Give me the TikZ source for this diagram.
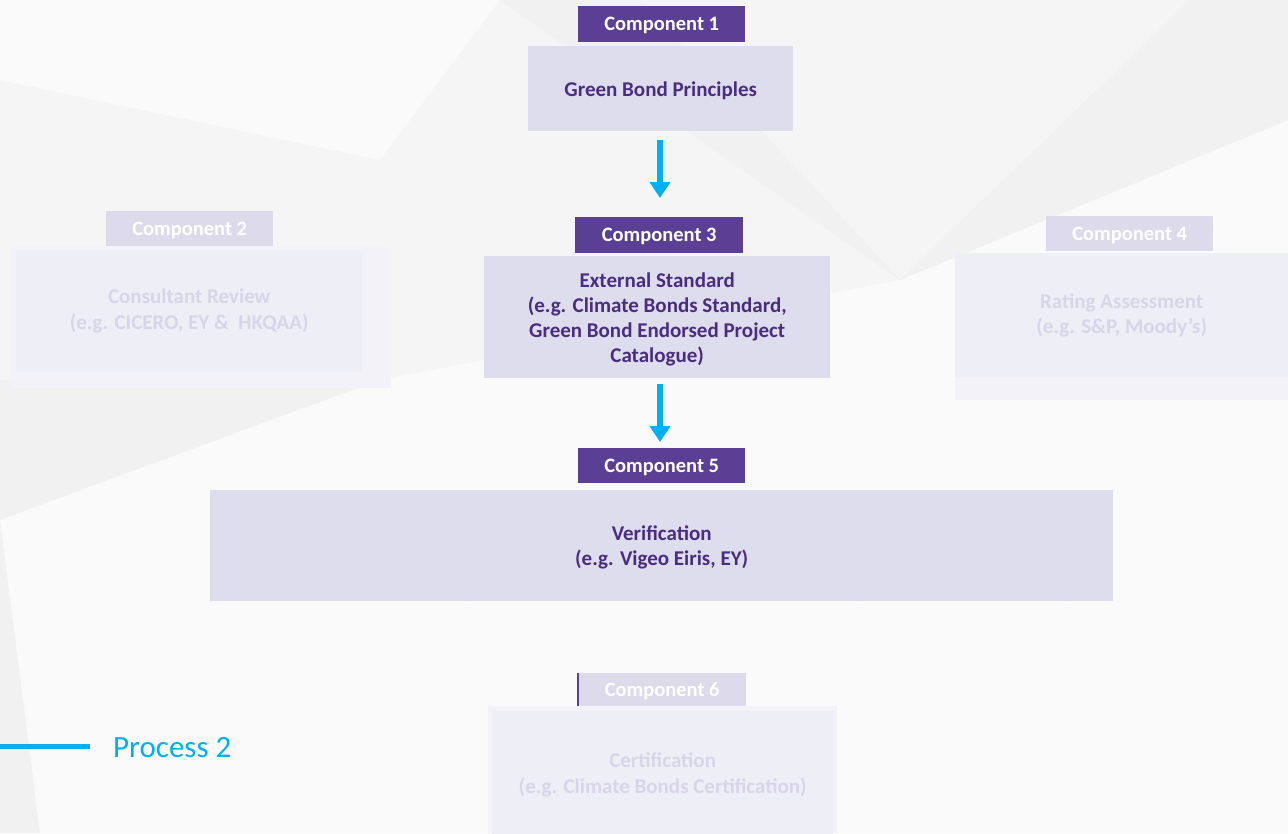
\documentclass[tikz,border=0pt]{standalone}
\usepackage{fontspec}
\setmainfont{Carlito}
\usetikzlibrary{arrows.meta}
\definecolor{bg}{HTML}{F5F5F6}
\definecolor{poly}{HTML}{FAFAFA}
\definecolor{polyd}{HTML}{F1F1F2}
\definecolor{hdr}{HTML}{5B3F94}
\definecolor{boxf}{HTML}{DEDDED}
\definecolor{txt}{HTML}{4A2C83}
\definecolor{cyanc}{HTML}{00B0F0}
\definecolor{fhdr}{HTML}{DDDAEB}
\definecolor{fout}{HTML}{F2F2F8}
\definecolor{fin}{HTML}{EEEEF7}
\definecolor{ftxt}{HTML}{D8D5E9}
\tikzset{
  x=1pt,y=-1pt,
  hdrbox/.style={fill=hdr,text=white,font=\bfseries\fontsize{20.5}{24}\selectfont,inner sep=0pt,anchor=north west,text depth=0pt},
  mainbox/.style={fill=boxf,text=txt,font=\bfseries\fontsize{21}{25}\selectfont,align=center,inner sep=0pt,anchor=north west,text depth=0pt},
  fhdrbox/.style={fill=fhdr,text=white,font=\bfseries\fontsize{20.5}{24}\selectfont,inner sep=0pt,anchor=north west,text depth=0pt},
  fbox/.style={fill=fin,text=ftxt,font=\bfseries\fontsize{21}{26}\selectfont,align=center,inner sep=0pt,anchor=north west},
  flow/.style={draw=cyanc,line width=6pt,-{Triangle[width=20pt,length=16pt]}}
}
\begin{document}
\begin{tikzpicture}
\useasboundingbox (0,0) rectangle (1288,833);
\fill[bg] (0,0) rectangle (1288,833);
% background facets
\fill[poly] (0,0) -- (500,0) -- (380,160) -- (0,80) -- cycle;
\fill[polyd] (500,0) -- (900,280) -- (640,0) -- cycle;
\fill[poly] (900,280) -- (1288,120) -- (1288,833) -- (1190,833) -- cycle;
\fill[poly] (900,280) -- (1190,833) -- (900,833) -- (860,620) -- cycle;
\fill[polyd] (1190,0) -- (1288,0) -- (1288,120) -- (900,280) -- cycle;
\fill[poly] (380,380) -- (900,280) -- (860,620) -- (470,620) -- cycle;
\fill[polyd] (0,380) -- (380,380) -- (0,520) -- cycle;
\fill[poly] (0,520) -- (380,380) -- (470,620) -- (150,833) -- (0,833) -- cycle;
\fill[polyd] (0,520) -- (40,833) -- (0,833) -- cycle;
\fill[poly] (470,620) -- (860,620) -- (900,833) -- (150,833) -- cycle;

% component 2 (faded)
\fill[fout] (11,247) rectangle (391,388);
\node[fbox,minimum width=346pt,minimum height=122pt] (c2) at (16,250) {Consultant Review\\(e.g. CICERO, EY \&\ \ HKQAA)};
\node[fhdrbox,minimum width=167pt,minimum height=35pt] (h2) at (106,211) {Component 2};

% component 4 (faded)
\fill[fout] (955,253) rectangle (1288,400);
\node[fbox,minimum width=333pt,minimum height=124pt,text depth=0pt] (c4) at (955,253) {\raisebox{20pt}{\begin{tabular}{@{}c@{}}Rating Assessment\\[-1pt](e.g. S\&P, Moody’s)\end{tabular}}};
\node[fhdrbox,minimum width=167pt,minimum height=35pt] (h4) at (1046,216) {Component 4};

% component 6 (faded)
\fill[fout] (488,706) rectangle (837,833);
\node[fbox,minimum width=341pt,minimum height=127pt] (c6) at (492,711) {Certification\\(e.g. Climate Bonds Certification)};
\node[fhdrbox,minimum width=168pt,minimum height=33pt] (h6) at (578,673) {Component 6};
\draw[hdr,line width=1.2pt] (h6.north west) -- (h6.south west);

% main chain
\node[hdrbox,minimum width=167pt,minimum height=36pt] (h1) at (578,6) {Component 1};
\node[mainbox,minimum width=265pt,minimum height=85pt] (b1) at (528,46) {Green Bond Principles};
\node[hdrbox,minimum width=168pt,minimum height=36pt] (h3) at (575,217) {Component 3};
\node[mainbox,minimum width=346pt,minimum height=122pt] (b3) at (484,256) {External Standard\\(e.g. Climate Bonds Standard,\\Green Bond Endorsed Project\\Catalogue)};
\node[hdrbox,minimum width=167pt,minimum height=35pt] (h5) at (578,448) {Component 5};
\node[mainbox,minimum width=903pt,minimum height=111pt] (b5) at (210,490) {Verification\\(e.g. Vigeo Eiris, EY)};

\coordinate (a1s) at (660,140);
\coordinate (a1e) at (660,198);
\coordinate (a2s) at (660,384);
\coordinate (a2e) at (660,442);
\draw[flow] (a1s) -- (a1e);
\draw[flow] (a2s) -- (a2e);

% legend
\coordinate (l0) at (0,746);
\coordinate (l1) at (90,746);
\draw[cyanc,line width=5pt] (l0) -- (l1);
\node[anchor=west,text=cyanc,font=\fontsize{31}{36}\selectfont,inner sep=0pt] (lg) at (113,748) {Process 2};
\end{tikzpicture}
\end{document}
